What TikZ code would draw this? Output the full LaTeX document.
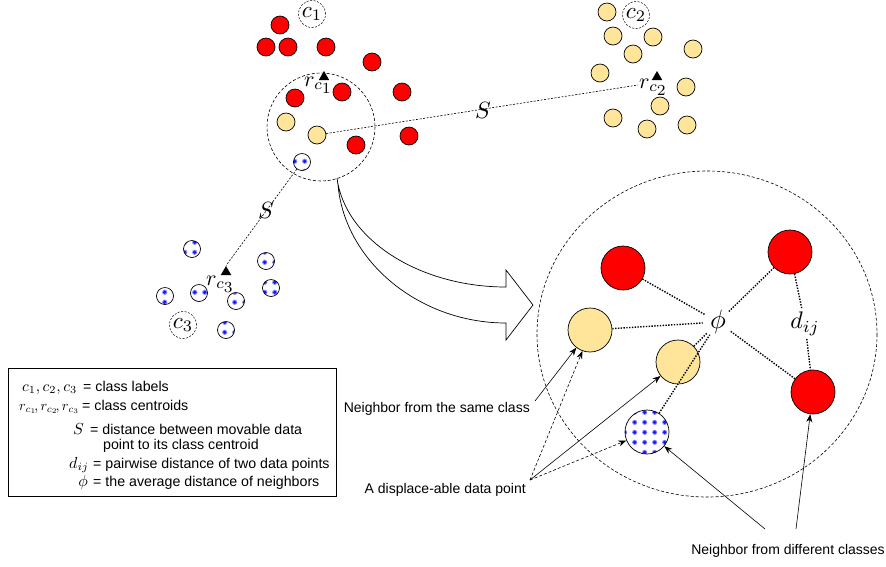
\documentclass[tikz,border=0pt]{standalone}
\usepackage{graphicx}
\usepackage{fontspec}
\setmainfont{Liberation Sans}
\usetikzlibrary{arrows.meta,shapes.geometric,patterns}
\definecolor{yel}{RGB}{255,229,153}
\definecolor{dotblue}{RGB}{20,20,255}
\definecolor{dothalo}{RGB}{140,140,255}
\newcommand{\MathAt}[2]{\scalebox{#1}{$#2$}}
\pgfdeclarepatterninherentlycolored{bluedots}{\pgfpoint{0pt}{0pt}}{\pgfpoint{10pt}{10pt}}{\pgfpoint{10pt}{10pt}}{%
  \pgfsetfillcolor{dothalo}\pgfpathcircle{\pgfpoint{5pt}{5pt}}{2.8pt}\pgfusepath{fill}%
  \pgfsetfillcolor{dotblue}\pgfpathcircle{\pgfpoint{5pt}{5pt}}{1.9pt}\pgfusepath{fill}}
\tikzset{
  pt/.style={circle, draw=black, line width=0.7pt, inner sep=0pt, minimum size=18pt},
  redpt/.style={pt, fill=red},
  yelpt/.style={pt, fill=yel},
  bluept/.style={pt, minimum size=17pt, pattern=bluedots},
  bigpt/.style={minimum size=44pt},
  clsbox/.style={circle, draw, line width=0.5pt, dash pattern=on 2pt off 1.5pt, minimum size=27pt, inner sep=0pt, font=\fontsize{10}{12}\selectfont},
  tri/.style={regular polygon, regular polygon sides=3, fill=black, minimum size=12pt, inner sep=0pt},
  rlab/.style={anchor=base west, inner sep=0pt, font=\fontsize{10}{12}\selectfont},
  mathlab/.style={inner sep=0pt, font=\fontsize{10}{12}\selectfont},
  sline/.style={line width=0.6pt, dash pattern=on 2pt off 1.5pt},
  nline/.style={line width=1.4pt, dash pattern=on 1.4pt off 1.4pt},
  bigring/.style={line width=0.6pt, dash pattern=on 3pt off 2pt},
  arr/.style={line width=0.6pt, -{Stealth[length=8pt,width=6pt]}},
  darr/.style={arr, dash pattern=on 3pt off 2pt},
  note/.style={inner sep=0pt, font=\fontsize{14}{16}\selectfont},
  legm/.style={anchor=base east, inner sep=0pt, font=\fontsize{10}{12}\selectfont},
  legmw/.style={anchor=base west, inner sep=0pt, font=\fontsize{10}{12}\selectfont},
  legt/.style={anchor=base west, inner sep=0pt, font=\fontsize{14.2}{16}\selectfont}
}
\begin{document}
\begin{tikzpicture}[x=1pt,y=-1pt]
\useasboundingbox (0,0) rectangle (886,566);
% ---------- cluster 1 (red) ----------
\node[clsbox] (c1) at (312,14) {\MathAt{2.3}{c_1}};
\foreach \n/\p in {a/{280,25},b/{266,47},c/{288,47},d/{326,47},e/{372,62},f/{342,92},g/{402,92},h/{295,98},i/{409,136},j/{356,145}}
  \node[redpt] (r\n) at (\p) {};
\node[yelpt] (ya) at (286,122) {};
\node[yelpt] (yb) at (317,135) {};
\node[bluept] (mv) at (302,162) {};
\draw[bigring] (321,127) circle[radius=54];
\node[tri] (t1) at (324,77) {};
\node[rlab] (lr1) at (304,86) {\MathAt{2.2}{r_{c_{\scriptstyle 1}}}};
% ---------- cluster 2 (yellow) ----------
\node[clsbox] (c2) at (636,15) {\MathAt{2.3}{c_2}};
\foreach \n/\p in {a/{607,12},b/{613,36},c/{653,37},d/{633,54},e/{693,49},f/{600,73},g/{686,87},h/{660,106},i/{613,118},j/{687,125},k/{647,129}}
  \node[yelpt] (y2\n) at (\p) {};
\node[tri] (t2) at (657,77) {};
\node[rlab] (lr2) at (639,88) {\MathAt{2.2}{r_{c_{\scriptstyle 2}}}};
\coordinate (e2) at (638,85);
\draw[sline] (yb) -- (e2);
\node[mathlab] (s1) at (483,110) {\MathAt{2.35}{S}};
% ---------- cluster 3 (blue) ----------
\node[clsbox] (c3) at (183,325) {\MathAt{2.3}{c_3}};
\foreach \n/\p in {a/{192,249},b/{266,261},c/{271,288},d/{165,296},e/{199,293},f/{236,301},g/{226,330}}
  \node[bluept] (b3\n) at (\p) {};
\node[tri] (t3) at (226,272) {};
\node[rlab] (lr3) at (206,285) {\MathAt{2.2}{r_{c_{\scriptstyle 3}}}};
\draw[sline] (mv) -- (t3.north);
\node[mathlab] (s2) at (266,210) {\MathAt{2.35}{S}};
% ---------- big hollow arrow ----------
\draw[line width=0.7pt, fill=white] (337,178) .. controls (345,240) and (420,287) .. (506,287) -- (506,270) -- (533,305) -- (506,340) -- (506,323) .. controls (420,323) and (345,262) .. (338,185) -- cycle;
% ---------- zoomed neighbourhood ----------
\draw[bigring] (707,334) ellipse[x radius=170, y radius=163];
\node[redpt, bigpt] (R1) at (623,268) {};
\node[redpt, bigpt] (R2) at (790,252) {};
\node[redpt, bigpt] (R3) at (813,392) {};
\node[yelpt, bigpt] (Y1) at (590,330) {};
\node[yelpt, bigpt] (Y2) at (678,362) {};
\node[bluept, bigpt] (B1) at (647,432) {};
\node[circle, inner sep=0pt, minimum size=30pt, font=\fontsize{10}{12}\selectfont] (phi) at (718,322) {\MathAt{2.65}{\phi}};
\node[inner sep=3pt, font=\fontsize{10}{12}\selectfont] (dij) at (805,324) {\MathAt{2.4}{d_{ij}}};
\draw[nline] (R1) -- (phi);
\draw[nline] (Y1) -- (phi);
\draw[nline] (Y2) -- (phi);
\draw[nline] (B1) -- (phi);
\draw[nline] (R2) -- (phi);
\draw[nline] (R3) -- (phi);
\draw[nline] (R2) -- (dij);
\draw[nline] (dij) -- (R3);
% ---------- annotations ----------
\node[note, anchor=east] (same) at (530,409) {Neighbor from the same class};
\node[note, anchor=east] (disp) at (526,490) {A displace-able data point};
\node[note] (diff) at (788,551) {Neighbor from different classes};
\coordinate (sa) at (535,401);
\coordinate (da) at (530,480);
\coordinate (fa) at (765,529);
\coordinate (fb) at (796,529);
\draw[arr] (sa) -- (Y1);
\draw[darr] (da) -- (Y1.-110);
\draw[arr] (da) -- (Y2);
\draw[darr] (da) -- (B1);
\draw[arr] (fa) -- (B1);
\draw[arr] (fb) -- (R3);
% ---------- legend ----------
\draw[line width=0.7pt] (8,368) rectangle (336,496);
\node[legmw] (m1) at (22,391) {\MathAt{1.55}{c_1, c_2, c_3}};
\node[legt] (t1l) at (83,391) {= class labels};
\node[legmw] (m2) at (19,410) {\MathAt{1.4}{r_{c_1}\!, r_{c_2}\!, r_{c_3}}};
\node[legt] (t2l) at (82,410) {= class centroids};
\node[legm] (m3) at (84,434) {\MathAt{1.6}{S}};
\node[legt] (t3l) at (90,434) {= distance between movable data};
\node[legt] (t3m) at (103,449) {point to its class centroid};
\node[legm] (m4) at (89,468) {\MathAt{1.6}{d_{ij}}};
\node[legt] (t4l) at (93,468) {= pairwise distance of two data points};
\node[legm] (m5) at (88,486) {\MathAt{1.6}{\phi}};
\node[legt] (t5l) at (93,486) {= the average distance of neighbors};
\end{tikzpicture}
\end{document}
